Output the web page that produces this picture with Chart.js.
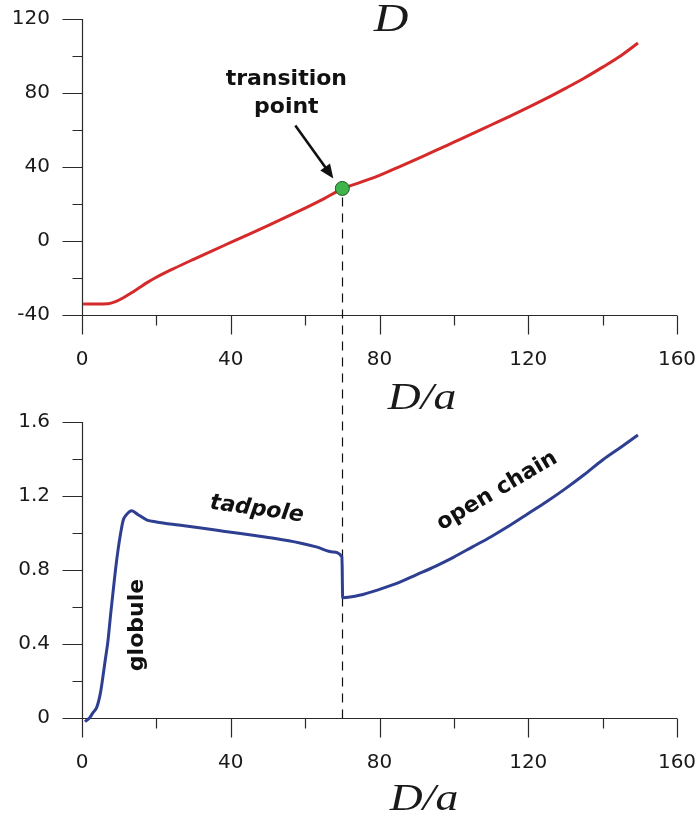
<!DOCTYPE html>
<html><head><meta charset="utf-8">
<script src="https://cdn.jsdelivr.net/npm/chart.js@4/dist/chart.umd.min.js"></script>
<style>
html,body{margin:0;padding:0;background:#fff;}
#wrap{position:relative;width:699px;height:817px;overflow:hidden;background:#fff;}
canvas{position:absolute;left:0;}
#c1{top:0}
#c2{top:390px}
</style></head><body>
<div id="wrap"><canvas id="c1" width="699" height="420"></canvas><canvas id="c2" width="699" height="427"></canvas></div>
<script>
// ---- data ----
const topX = [0.3, 4, 7, 9, 11, 13, 15, 17.5, 20, 25, 30, 35, 40, 45, 50, 55, 60, 65, 70, 75, 80, 85, 90, 95, 100, 105, 110, 115, 120, 125, 130, 135, 140, 145, 149.5];
const topY = [-34, -34, -33.9, -32.8, -30.8, -28.4, -25.8, -22.5, -19.6, -14.6, -9.9, -5.3, -0.8, 3.7, 8.3, 13.0, 17.8, 22.8, 28.2, 31.8, 35.5, 39.8, 44.3, 48.8, 53.4, 58.0, 62.7, 67.4, 72.2, 77.2, 82.5, 88.0, 94.0, 100.3, 107.0];
const bottomX = [0.8, 2, 3, 4, 5, 5.6, 6.3, 7, 7.7, 8.4, 9, 9.7, 10.4, 11.1, 12, 13.4, 15, 17.5, 20, 26, 32, 38, 45, 52, 58.6, 63, 67.5, 69.9, 70.1, 75, 80, 85, 90, 95, 100, 105, 110, 115, 120, 125, 130, 135, 140, 145, 149.5];
const bottomY = [-0.02, 0.0, 0.03, 0.06, 0.14, 0.22, 0.32, 0.42, 0.56, 0.69, 0.8, 0.91, 1.0, 1.07, 1.1, 1.12, 1.1, 1.07, 1.06, 1.043, 1.027, 1.01, 0.99, 0.97, 0.946, 0.925, 0.897, 0.87, 0.65, 0.665, 0.695, 0.73, 0.775, 0.82, 0.87, 0.925, 0.98, 1.04, 1.105, 1.17, 1.24, 1.315, 1.395, 1.465, 1.53];
const transitionX = [70];
const transitionY = [28.4];
const xTicks = [0, 40, 80, 120, 160];
const xMinorTicks = [20, 60, 100, 140];
const topYTicks = [-40, 0, 40, 80, 120];
const topYMinorTicks = [-20, 20, 60, 100];
const bottomYTicks = [0, 0.4, 0.8, 1.2, 1.6];
const bottomYLabels = ['0', '0.4', '0.8', '1.2', '1.6'];
const bottomYMinorTicks = [0.2, 0.6, 1.0, 1.4];
const xLabel = 'D/a';
const topTitle = 'D';
const annotations = {transition: ['transition', 'point'], globule: 'globule', tadpole: 'tadpole', open: 'open chain'};

const pts = (xs, ys) => xs.map((v, i) => ({x: v, y: ys[i]}));
const TICK_FONT = {family: 'DejaVu Sans', size: 20};
const TICK_COLOR = '#1a1a1a';
const SPLIT = 390; // top of the lower canvas on the page

function drawAxes(chart, yMajor, yMinor) {
  const {ctx, chartArea: a, scales: {x, y}} = chart;
  ctx.save();
  ctx.strokeStyle = '#2a2a2a';
  ctx.lineWidth = 1.2;
  const L = Math.round(a.left) + 0.5, B = Math.round(a.bottom) + 0.5;
  ctx.beginPath();
  ctx.moveTo(L, a.top); ctx.lineTo(L, B);
  ctx.moveTo(L, B); ctx.lineTo(a.right, B);
  xTicks.forEach(v => { const p = Math.round(x.getPixelForValue(v)) + 0.5; ctx.moveTo(p, B); ctx.lineTo(p, B + 19); });
  xMinorTicks.forEach(v => { const p = Math.round(x.getPixelForValue(v)) + 0.5; ctx.moveTo(p, B); ctx.lineTo(p, B + 10); });
  yMajor.forEach(v => { const p = Math.round(y.getPixelForValue(v)) + 0.5; ctx.moveTo(L, p); ctx.lineTo(L - 20, p); });
  yMinor.forEach(v => { const p = Math.round(y.getPixelForValue(v)) + 0.5; ctx.moveTo(L, p); ctx.lineTo(L - 10, p); });
  ctx.stroke();
  ctx.restore();
}

function drawSerif(ctx, text, cx, baseline, size) {
  ctx.save();
  ctx.font = 'italic ' + size + 'px "Liberation Serif"';
  ctx.fillStyle = '#1a1a1a';
  ctx.textAlign = 'center';
  ctx.textBaseline = 'alphabetic';
  ctx.translate(cx, baseline);
  ctx.scale(1.2, 1);
  ctx.fillText(text, 0, 0);
  ctx.restore();
}

const DASH = [9, 7];
let dashRun = 0;

const topPlugin = {
  id: 'topDeco',
  beforeDatasetsDraw(chart) {
    drawAxes(chart, topYTicks, topYMinorTicks);
    const {ctx, scales: {x, y}} = chart;
    const px = Math.round(x.getPixelForValue(transitionX[0])) + 0.5;
    const py = y.getPixelForValue(transitionY[0]);
    const start = py + 9;
    dashRun = SPLIT - start;
    ctx.save();
    ctx.strokeStyle = '#111';
    ctx.lineWidth = 1.2;
    ctx.setLineDash(DASH);
    ctx.beginPath();
    ctx.moveTo(px, start);
    ctx.lineTo(px, SPLIT);
    ctx.stroke();
    ctx.restore();
  },
  afterDraw(chart) {
    const {ctx, chartArea: a, scales: {x, y}} = chart;
    drawSerif(ctx, topTitle, 391, 31, 40);
    drawSerif(ctx, xLabel, a.left + 340, a.bottom + 94, 38);
    const px = x.getPixelForValue(transitionX[0]);
    const py = y.getPixelForValue(transitionY[0]);
    ctx.save();
    ctx.fillStyle = '#111';
    ctx.font = 'bold 22px "DejaVu Sans"';
    ctx.textAlign = 'center';
    ctx.textBaseline = 'alphabetic';
    ctx.fillText(annotations.transition[0], px - 56, py - 103);
    ctx.fillText(annotations.transition[1], px - 56, py - 75);
    // arrow
    const tx = px - 9, ty = py - 10;
    const sx = tx - 38, sy = ty - 53;
    const ang = Math.atan2(ty - sy, tx - sx);
    ctx.strokeStyle = '#111';
    ctx.lineWidth = 2.6;
    ctx.beginPath();
    ctx.moveTo(sx, sy);
    ctx.lineTo(tx - 10 * Math.cos(ang), ty - 10 * Math.sin(ang));
    ctx.stroke();
    ctx.beginPath();
    ctx.moveTo(tx, ty);
    ctx.lineTo(tx - 14 * Math.cos(ang) + 6 * Math.sin(ang), ty - 14 * Math.sin(ang) - 6 * Math.cos(ang));
    ctx.lineTo(tx - 14 * Math.cos(ang) - 6 * Math.sin(ang), ty - 14 * Math.sin(ang) + 6 * Math.cos(ang));
    ctx.closePath();
    ctx.fill();
    ctx.restore();
  }
};

const bottomPlugin = {
  id: 'bottomDeco',
  beforeDatasetsDraw(chart) {
    drawAxes(chart, bottomYTicks, bottomYMinorTicks);
    const {ctx, chartArea: a, scales: {x}} = chart;
    const px = Math.round(x.getPixelForValue(transitionX[0])) + 0.5;
    ctx.save();
    ctx.strokeStyle = '#111';
    ctx.lineWidth = 1.2;
    ctx.setLineDash(DASH);
    ctx.lineDashOffset = dashRun % (DASH[0] + DASH[1]);
    ctx.beginPath();
    ctx.moveTo(px, 0);
    ctx.lineTo(px, a.bottom);
    ctx.stroke();
    ctx.restore();
  },
  afterDraw(chart) {
    const {ctx, chartArea: a} = chart;
    drawSerif(ctx, xLabel, a.left + 342, a.bottom + 92, 38);
    ctx.save();
    ctx.fillStyle = '#111';
    ctx.font = 'bold 22px "DejaVu Sans"';
    ctx.textBaseline = 'alphabetic';
    ctx.textAlign = 'center';
    // globule (vertical)
    ctx.save();
    ctx.translate(143, 235);
    ctx.rotate(-Math.PI / 2);
    ctx.fillText(annotations.globule, 0, 0);
    ctx.restore();
    // tadpole
    ctx.save();
    ctx.translate(256, 125);
    ctx.rotate(8 * Math.PI / 180);
    ctx.font = 'bold italic 22px "DejaVu Sans"';
    ctx.fillText(annotations.tadpole, 0, 0);
    ctx.restore();
    // open chain
    ctx.save();
    ctx.translate(500, 106);
    ctx.rotate(-30.5 * Math.PI / 180);
    ctx.fillText(annotations.open, 0, 0);
    ctx.restore();
    ctx.restore();
  }
};

function xScale(h) {
  return {
    type: 'linear', position: 'bottom', min: 0, max: 160,
    afterBuildTicks: s => { s.ticks = xTicks.map(v => ({value: v})); },
    afterFit: s => { s.height = h; },
    grid: {display: false, drawTicks: true, tickLength: 31},
    border: {display: false},
    ticks: {font: TICK_FONT, color: TICK_COLOR, padding: 2, maxRotation: 0, autoSkip: false, callback: v => String(v)}
  };
}

function yScale(min, max, ticks, labels) {
  return {
    type: 'linear', min: min, max: max,
    afterBuildTicks: s => { s.ticks = ticks.map(v => ({value: v})); },
    afterFit: s => { s.width = 82; },
    grid: {display: false, drawTicks: true, tickLength: 30},
    border: {display: false},
    ticks: {font: TICK_FONT, color: TICK_COLOR, padding: 2, callback: (v, i) => labels[i]}
  };
}

new Chart(document.getElementById('c1'), {
  type: 'scatter',
  data: {
    datasets: [
      {type: 'scatter', data: pts(transitionX, transitionY), pointRadius: 7, pointHoverRadius: 7,
       backgroundColor: '#3fb44b', borderColor: '#1e5a22', borderWidth: 1, order: 0},
      {type: 'line', data: pts(topX, topY), borderColor: '#d62a2a', borderWidth: 3, pointRadius: 0,
       cubicInterpolationMode: 'monotone', fill: false, clip: false, order: 1}
    ]
  },
  options: {
    responsive: false, maintainAspectRatio: false, animation: false, devicePixelRatio: 1,
    layout: {padding: {top: 19, right: 22, left: 0, bottom: 0}},
    plugins: {legend: {display: false}, tooltip: {enabled: false}, title: {display: false}},
    scales: {
      x: xScale(105),
      y: yScale(-40, 120, topYTicks, topYTicks.map(String))
    }
  },
  plugins: [topPlugin]
});

new Chart(document.getElementById('c2'), {
  type: 'line',
  data: {
    datasets: [
      {data: pts(bottomX, bottomY), borderColor: '#2e3f92', borderWidth: 3, pointRadius: 0,
       cubicInterpolationMode: 'monotone', fill: false, clip: false}
    ]
  },
  options: {
    responsive: false, maintainAspectRatio: false, animation: false, devicePixelRatio: 1,
    layout: {padding: {top: 32, right: 22, left: 0, bottom: 0}},
    plugins: {legend: {display: false}, tooltip: {enabled: false}, title: {display: false}},
    scales: {
      x: xScale(99),
      y: yScale(0, 1.6, bottomYTicks, bottomYLabels)
    }
  },
  plugins: [bottomPlugin]
});
</script>
</body></html>
